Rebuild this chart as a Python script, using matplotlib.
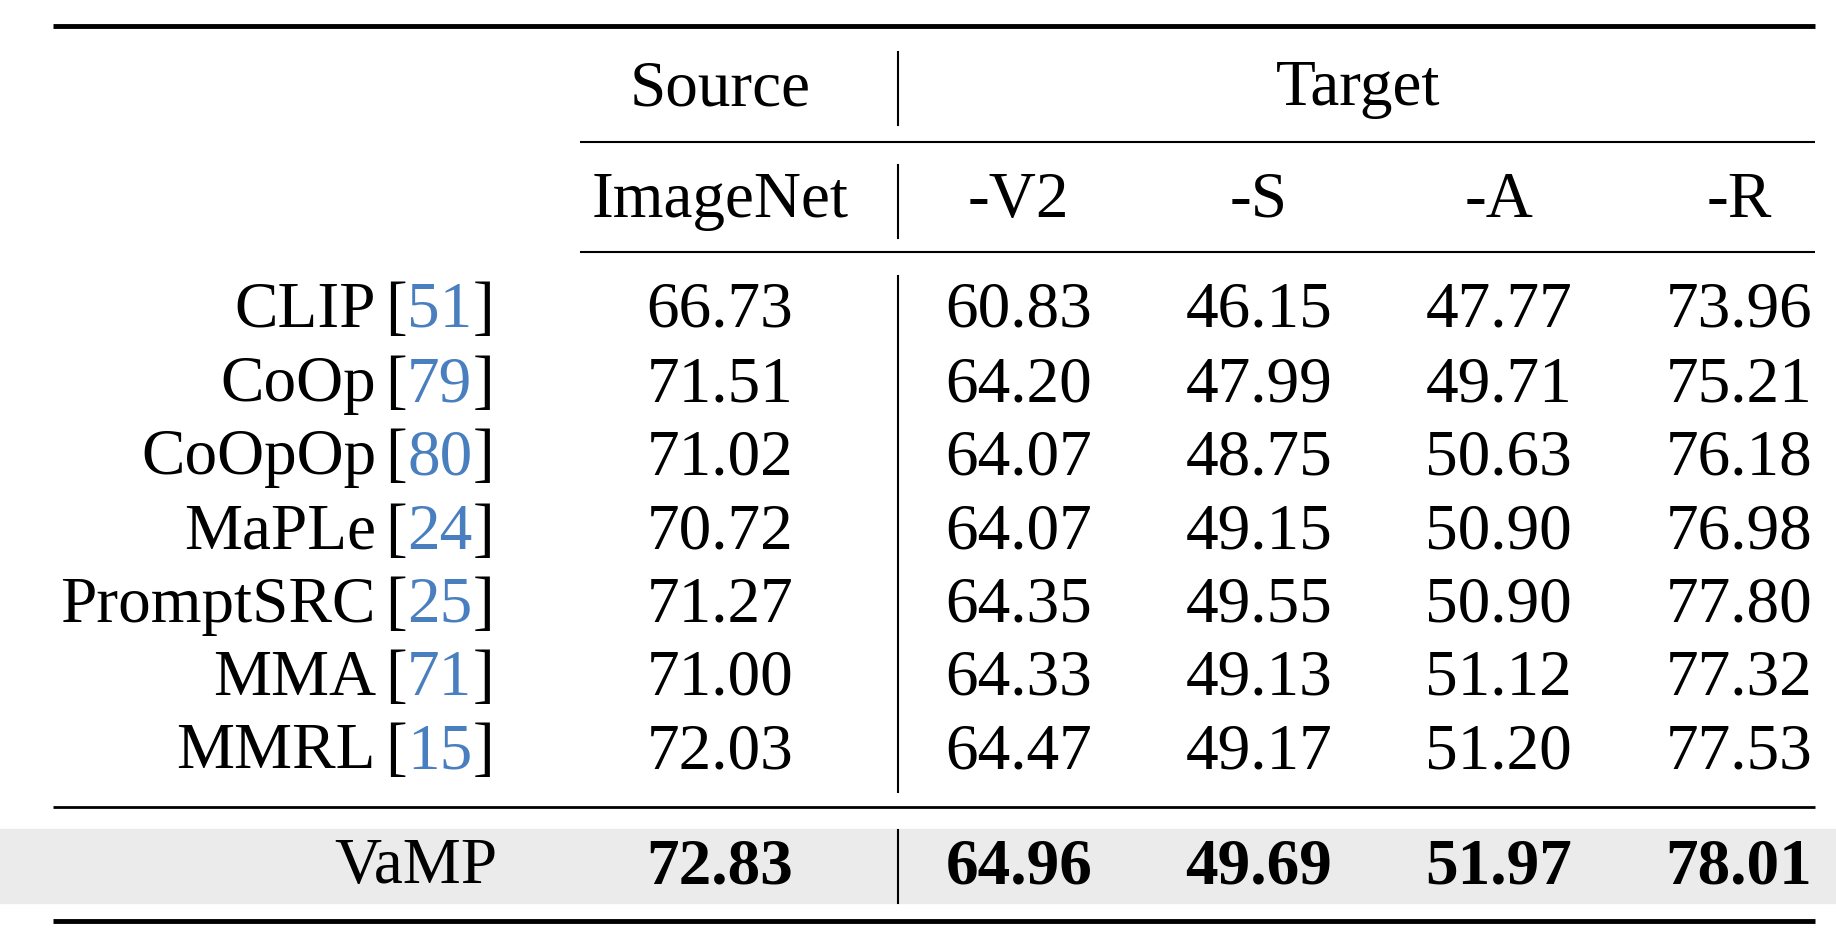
import matplotlib
matplotlib.use("Agg")
import matplotlib.pyplot as plt
from matplotlib.patches import Rectangle

methods = ["CLIP", "CoOp", "CoOpOp", "MaPLe", "PromptSRC", "MMA", "MMRL"]
cites = ["51", "79", "80", "24", "25", "71", "15"]
imagenet = ["66.73", "71.51", "71.02", "70.72", "71.27", "71.00", "72.03"]
v2 = ["60.83", "64.20", "64.07", "64.07", "64.35", "64.33", "64.47"]
sk = ["46.15", "47.99", "48.75", "49.15", "49.55", "49.13", "49.17"]
aa = ["47.77", "49.71", "50.63", "50.90", "50.90", "51.12", "51.20"]
rr = ["73.96", "75.21", "76.18", "76.98", "77.80", "77.32", "77.53"]
ours_name = "VaMP"
ours = ["72.83", "64.96", "49.69", "51.97", "78.01"]
headers = ["ImageNet", "-V2", "-S", "-A", "-R"]

W, H = 1568.0, 820.0
fig = plt.figure(figsize=(18.36, 9.52), dpi=100)
ax = fig.add_axes([0, 0, 1, 1])
ax.set_xlim(0, W); ax.set_ylim(H, 0); ax.axis("off")
FS = 47
font = dict(family="Liberation Serif", fontsize=FS, va="center")
blue = "#4a7fbf"
dy = 5

def hline(y, x0, x1, lw):
    ax.plot([x0, x1], [y, y], color="black", lw=lw, solid_capstyle="butt")
def vline(x, y0, y1):
    ax.plot([x, x], [y0, y1], color="black", lw=1.5)

ax.add_patch(Rectangle((0, 714), W, 64, color="#ebebeb", zorder=0))
hline(22, 45, 1550, 3.5)
hline(122, 495, 1550, 1.5)
hline(217, 495, 1550, 1.5)
hline(695, 45, 1550, 2)
hline(793, 45, 1550, 3.5)
vline(767, 45, 108)
vline(767, 142, 205)
vline(767, 238, 682)
vline(767, 715, 778)

ax.text(615, 72 + dy, "Source", ha="center", **font)
ax.text(1160, 72 + dy, "Target", ha="center", **font)
xs = [615, 870, 1075, 1280, 1485]
for x, h in zip(xs, headers):
    ax.text(x, 168 + dy, h, ha="center", **font)

rows_y = [263, 327, 390, 454, 517, 580, 643]
fig.canvas.draw()
r = fig.canvas.get_renderer()
inv = ax.transData.inverted()
def width(t):
    bb = t.get_window_extent(r)
    return inv.transform((bb.x1, 0))[0] - inv.transform((bb.x0, 0))[0]

for i, y in enumerate(rows_y):
    y = y + dy
    x = 422
    t = ax.text(x, y, "]", ha="right", **font); x -= width(t)
    t = ax.text(x, y, cites[i], ha="right", color=blue, **font); x -= width(t)
    t = ax.text(x, y, "[", ha="right", **font); x -= width(t)
    ax.text(x - 8, y, methods[i], ha="right", **font)
    for x2, col in zip(xs, [imagenet, v2, sk, aa, rr]):
        ax.text(x2, y, col[i], ha="center", **font)

ax.text(425, 742 + dy, ours_name, ha="right", **font)
for x2, v in zip(xs, ours):
    ax.text(x2, 742 + dy, v, ha="center", fontweight="bold", **font)

fig.savefig("out.png", dpi=100)
